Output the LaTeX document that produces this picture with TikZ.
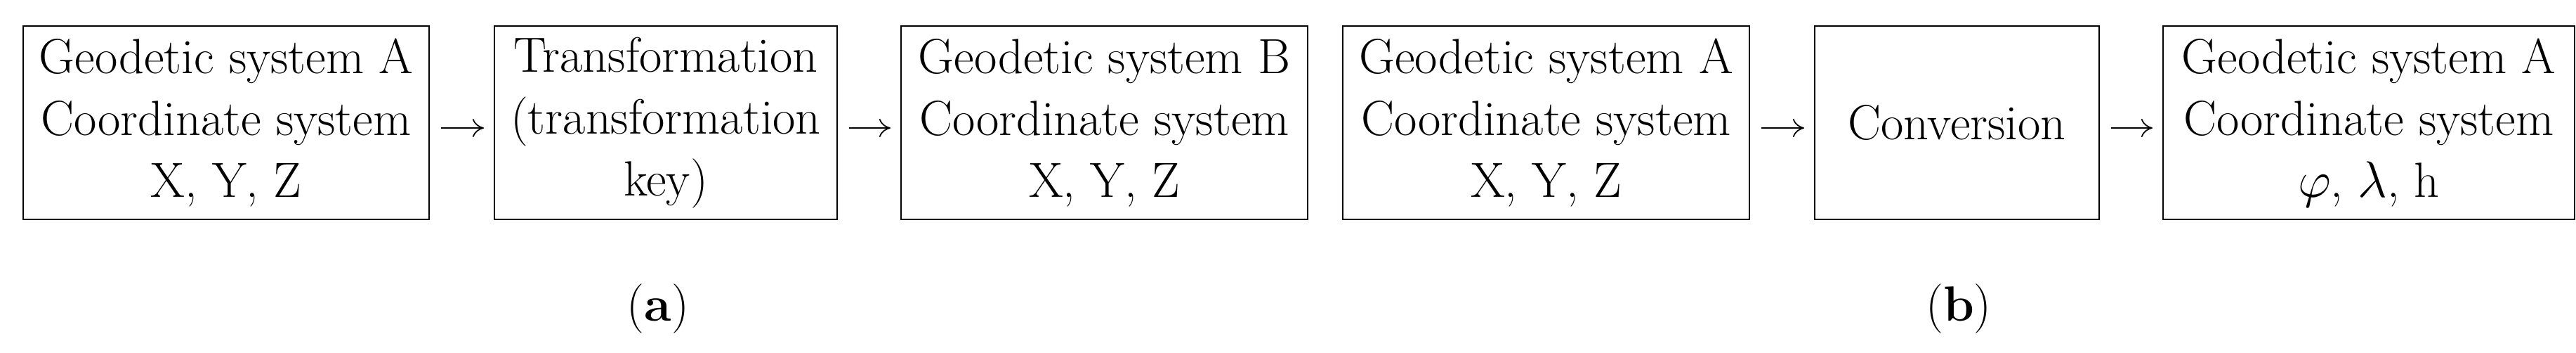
\documentclass[tikz,border=0pt]{standalone}
\usepackage{amssymb}
\usepackage{amsmath}
\usetikzlibrary{arrows.meta}

\begin{document}
\begin{tikzpicture}[
        box/.style={draw, line width=0.6pt, minimum height=2.75cm, inner sep=0pt, align=center,
            font=\fontsize{20}{25}\selectfont},
        link/.style={line width=0.5pt, -{To[length=1.6mm, width=2.6mm]}, shorten <=1.6mm, shorten >=1.4mm}
    ]
        \useasboundingbox (0, 0) rectangle (36.68, 5.01);

        \node[box, minimum width=5.78cm] (a1) at (3.22, 3.265) {Geodetic system A\\Coordinate system\\X, Y, Z};
        \node[box, minimum width=4.88cm] (a2) at (9.48, 3.265) {Transformation\\(transformation\\key)};
        \node[box, minimum width=5.79cm] (a3) at (15.725, 3.265) {Geodetic system B\\Coordinate system\\X, Y, Z};
        \node[box, minimum width=5.79cm] (b1) at (22.015, 3.265) {Geodetic system A\\Coordinate system\\X, Y, Z};
        \node[box, minimum width=4.05cm] (b2) at (27.865, 3.265) {Conversion};
        \node[box, minimum width=5.86cm] (b3) at (33.73, 3.265) {Geodetic system A\\Coordinate system\\$\varphi$, $\lambda$, h};

        \draw ([yshift=-0.75mm]a1.east) edge[link] ([yshift=-0.75mm]a2.west);
        \draw ([yshift=-0.75mm]a2.east) edge[link] ([yshift=-0.75mm]a3.west);
        \draw ([yshift=-0.75mm]b1.east) edge[link] ([yshift=-0.75mm]b2.west);
        \draw ([yshift=-0.75mm]b2.east) edge[link] ([yshift=-0.75mm]b3.west);

        \node[font=\fontsize{20}{25}\selectfont] (la) at (9.37, 0.62) {(\textbf{a})};
        \node[font=\fontsize{20}{25}\selectfont] (lb) at (27.89, 0.62) {(\textbf{b})};
    \end{tikzpicture}
\end{document}
